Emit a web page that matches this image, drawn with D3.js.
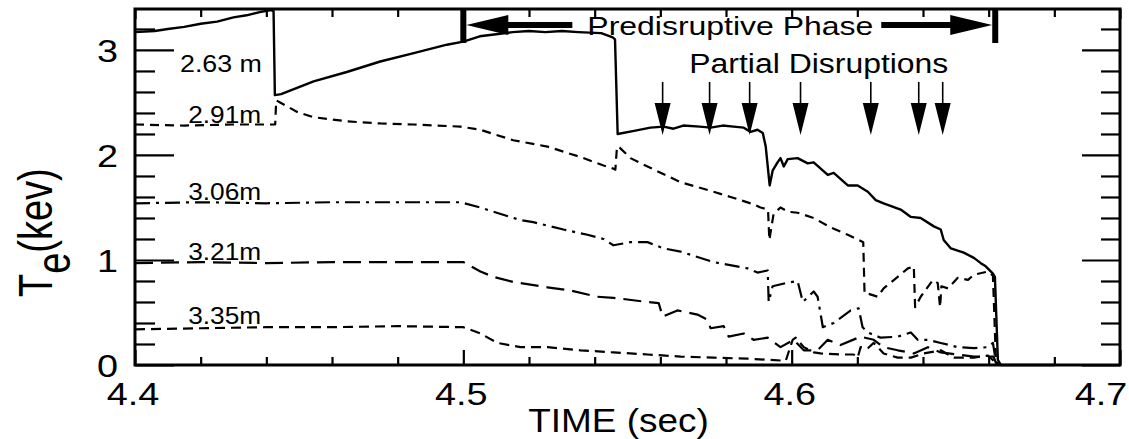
<!DOCTYPE html>
<html>
<head>
<meta charset="utf-8">
<script src="https://cdn.jsdelivr.net/npm/d3@7"></script>
<style>
  html, body { margin: 0; padding: 0; background: #fff; }
  svg { display: block; font-family: "Liberation Sans", Arial, Helvetica, sans-serif; }
</style>
</head>
<body>
<svg id="chart" width="1129" height="439"></svg>
<script>
// ---------------- DATA ----------------
const xDomain = [4.4, 4.7];
const yDomain = [0, 3.39];
const xMajorTicks = [4.4, 4.5, 4.6, 4.7];
const xTickLabels = ["4.4", "4.5", "4.6", "4.7"];
const yMajorTicks = [0, 1, 2, 3];
const yTickLabels = ["0", "1", "2", "3"];
const seriesNames = ["2.63 m", "2.91m", "3.06m", "3.21m", "3.35m"];

// [time (sec), Te (keV)]
const s263 = [[4.4000,3.17],[4.4060,3.18],[4.4100,3.20],[4.4150,3.22],[4.4200,3.25],[4.4250,3.27],[4.4300,3.31],[4.4340,3.33],[4.4380,3.36],[4.4415,3.38],[4.4422,3.37],[4.4426,2.57],[4.4445,2.58],[4.4544,2.70],[4.4645,2.79],[4.4747,2.89],[4.4849,2.97],[4.4950,3.05],[4.5000,3.08],[4.5050,3.13],[4.5100,3.15],[4.5150,3.17],[4.5200,3.18],[4.5250,3.17],[4.5300,3.18],[4.5350,3.17],[4.5420,3.16],[4.5455,3.12],[4.5462,3.10],[4.5470,2.20],[4.5520,2.23],[4.5570,2.26],[4.5610,2.27],[4.5640,2.25],[4.5670,2.28],[4.5720,2.27],[4.5753,2.26],[4.5790,2.28],[4.5823,2.27],[4.5854,2.26],[4.5875,2.22],[4.5896,2.24],[4.5912,2.21],[4.5921,2.08],[4.5933,1.71],[4.5942,1.85],[4.5957,1.93],[4.5966,1.97],[4.5976,1.89],[4.5988,1.96],[4.6018,1.97],[4.6049,1.92],[4.6067,1.93],[4.6110,1.81],[4.6128,1.83],[4.6171,1.71],[4.6201,1.71],[4.6232,1.65],[4.6256,1.57],[4.6280,1.54],[4.6332,1.48],[4.6363,1.41],[4.6393,1.40],[4.6433,1.32],[4.6454,1.29],[4.6463,1.19],[4.6485,1.11],[4.6524,1.07],[4.6555,1.02],[4.6576,0.97],[4.6591,0.94],[4.6613,0.87],[4.6619,0.84],[4.6628,0.05],[4.6637,0.00],[4.6800,0.00]];

const s291 = [[4.4000,2.29],[4.4150,2.28],[4.4300,2.29],[4.4420,2.29],[4.4427,2.29],[4.4430,2.52],[4.4442,2.50],[4.4494,2.41],[4.4543,2.36],[4.4646,2.32],[4.4747,2.30],[4.4848,2.29],[4.4991,2.27],[4.5052,2.24],[4.5152,2.14],[4.5256,2.08],[4.5357,1.98],[4.5427,1.90],[4.5457,1.87],[4.5463,1.86],[4.5468,2.08],[4.5476,2.07],[4.5509,1.97],[4.5561,1.89],[4.5662,1.74],[4.5762,1.65],[4.5814,1.60],[4.5884,1.53],[4.5905,1.50],[4.5928,1.48],[4.5932,1.19],[4.5945,1.44],[4.5966,1.50],[4.5988,1.46],[4.6018,1.45],[4.6067,1.40],[4.6119,1.31],[4.6171,1.24],[4.6218,1.17],[4.6222,0.68],[4.6232,0.68],[4.6262,0.65],[4.6280,0.73],[4.6323,0.84],[4.6354,0.92],[4.6372,0.94],[4.6376,0.55],[4.6393,0.65],[4.6430,0.81],[4.6445,0.78],[4.6452,0.55],[4.6456,0.75],[4.6476,0.73],[4.6506,0.83],[4.6537,0.81],[4.6555,0.86],[4.6598,0.89],[4.6613,0.85],[4.6622,0.05],[4.6637,0.00]];

const s306 = [[4.4000,1.54],[4.4200,1.55],[4.4400,1.54],[4.4600,1.55],[4.4800,1.55],[4.4991,1.55],[4.5052,1.50],[4.5091,1.46],[4.5174,1.38],[4.5213,1.36],[4.5305,1.29],[4.5378,1.24],[4.5427,1.20],[4.5457,1.14],[4.5509,1.17],[4.5561,1.17],[4.5610,1.11],[4.5662,1.08],[4.5762,0.98],[4.5866,0.92],[4.5896,0.88],[4.5927,0.90],[4.5930,0.60],[4.5942,0.75],[4.5982,0.78],[4.6018,0.80],[4.6034,0.60],[4.6067,0.70],[4.6079,0.65],[4.6095,0.36],[4.6128,0.40],[4.6180,0.52],[4.6204,0.54],[4.6216,0.36],[4.6232,0.31],[4.6271,0.26],[4.6323,0.27],[4.6363,0.31],[4.6384,0.24],[4.6415,0.24],[4.6454,0.21],[4.6506,0.17],[4.6555,0.16],[4.6598,0.17],[4.6613,0.21],[4.6622,0.03],[4.6637,0.00]];

const s321 = [[4.4000,0.97],[4.4200,0.98],[4.4400,0.97],[4.4600,0.98],[4.4800,0.98],[4.5000,0.98],[4.5052,0.89],[4.5091,0.84],[4.5152,0.79],[4.5256,0.74],[4.5326,0.71],[4.5408,0.65],[4.5457,0.64],[4.5561,0.60],[4.5595,0.59],[4.5607,0.46],[4.5652,0.52],[4.5713,0.48],[4.5744,0.43],[4.5753,0.35],[4.5793,0.37],[4.5808,0.27],[4.5854,0.30],[4.5884,0.24],[4.5927,0.26],[4.5966,0.17],[4.6006,0.24],[4.6037,0.14],[4.6079,0.14],[4.6110,0.24],[4.6149,0.19],[4.6210,0.27],[4.6250,0.24],[4.6280,0.17],[4.6323,0.14],[4.6372,0.11],[4.6415,0.17],[4.6454,0.12],[4.6506,0.10],[4.6555,0.08],[4.6598,0.08],[4.6615,0.08],[4.6622,0.02],[4.6637,0.00]];

const s335 = [[4.4000,0.34],[4.4200,0.35],[4.4400,0.36],[4.4600,0.36],[4.4800,0.37],[4.5000,0.36],[4.5052,0.30],[4.5104,0.21],[4.5174,0.17],[4.5256,0.17],[4.5357,0.14],[4.5457,0.12],[4.5561,0.10],[4.5662,0.08],[4.5762,0.07],[4.5866,0.06],[4.5927,0.05],[4.5982,0.04],[4.6003,0.24],[4.6012,0.26],[4.6037,0.17],[4.6067,0.12],[4.6088,0.11],[4.6149,0.10],[4.6189,0.10],[4.6201,0.07],[4.6210,0.17],[4.6232,0.16],[4.6250,0.21],[4.6280,0.11],[4.6323,0.07],[4.6363,0.07],[4.6402,0.11],[4.6454,0.14],[4.6494,0.07],[4.6555,0.07],[4.6598,0.09],[4.6622,0.02],[4.6637,0.00]];

// label anchor (time, Te) for each series name
const labelTimes = [4.4137, 4.4162, 4.4162, 4.4162, 4.4162];
const labelValues = [2.79, 2.30, 1.57, 1.00, 0.39];

// annotations
const phaseStart = 4.5;
const phaseEnd = 4.662;
const partialDisruptionTimes = [4.5607, 4.5750, 4.5872, 4.6027, 4.6241, 4.6387, 4.6460];

// ---------------- CHART ----------------
(function () {
const svg = d3.select("#chart");
const margin = {left: 135, right: 9, top: 9, bottom: 74};
const W = 1129, H = 439;
const x = d3.scaleLinear(xDomain, [margin.left, W - margin.right]);
const y = d3.scaleLinear(yDomain, [H - margin.bottom, margin.top]);

const series = [
  {data: s263, dash: null, w: 2.4},
  {data: s291, dash: "9,6", w: 2.2},
  {data: s306, dash: "15,6,3,6", w: 2.2},
  {data: s321, dash: "18,8", w: 2.2},
  {data: s335, dash: "10,6", w: 2.2}
];

const line = d3.line().x(d => x(d[0])).y(d => y(d[1]));
svg.append("g").selectAll("path").data(series).join("path")
  .attr("d", d => line(d.data))
  .attr("fill", "none")
  .attr("stroke", "#000")
  .attr("stroke-width", d => d.w)
  .attr("stroke-linejoin", "round")
  .attr("stroke-dasharray", d => d.dash);

// axes
const xMinor = d3.range(4.42, 4.7, 0.02).filter(v => Math.abs(v*10 - Math.round(v*10)) > 1e-6);
const yMinor = d3.range(0.2, 3.39, 0.2).filter(v => Math.abs(v - Math.round(v)) > 1e-6);
function styleAxis(g) {
  g.selectAll(".domain").remove();
  g.selectAll("line").attr("stroke", "#000").attr("stroke-width", 2.2);
  g.selectAll("text").remove();
}
const bottomY = H - margin.bottom, leftX = margin.left, rightX = W - margin.right, topY = margin.top;
svg.append("g").attr("transform", `translate(0,${bottomY})`).call(d3.axisBottom(x).tickValues(xMajorTicks).tickSize(-15)).call(styleAxis);
svg.append("g").attr("transform", `translate(0,${bottomY})`).call(d3.axisBottom(x).tickValues(xMinor).tickSize(-8)).call(styleAxis);
svg.append("g").attr("transform", `translate(0,${topY})`).call(d3.axisTop(x).tickValues(xMajorTicks).tickSize(-10)).call(styleAxis);
svg.append("g").attr("transform", `translate(0,${topY})`).call(d3.axisTop(x).tickValues(xMinor).tickSize(-8)).call(styleAxis);
svg.append("g").attr("transform", `translate(${leftX},0)`).call(d3.axisLeft(y).tickValues(yMajorTicks).tickSize(-39)).call(styleAxis);
svg.append("g").attr("transform", `translate(${leftX},0)`).call(d3.axisLeft(y).tickValues(yMinor).tickSize(-20)).call(styleAxis);
svg.append("g").attr("transform", `translate(${rightX},0)`).call(d3.axisRight(y).tickValues(yMajorTicks).tickSize(-38)).call(styleAxis);
svg.append("g").attr("transform", `translate(${rightX},0)`).call(d3.axisRight(y).tickValues(yMinor).tickSize(-19)).call(styleAxis);

// frame
svg.append("rect").attr("x", leftX).attr("y", topY).attr("width", rightX - leftX).attr("height", bottomY - topY)
  .attr("fill", "none").attr("stroke", "#000").attr("stroke-width", 3);

// tick labels (last one pulled in so it stays inside the picture)
svg.append("g").selectAll("text").data(xMajorTicks).join("text")
  .attr("transform", (d, i) => `translate(${Math.min(x(d) - 2, W - 28)},${bottomY + 40}) scale(1.22,1)`)
  .attr("text-anchor", "middle").attr("font-size", 31)
  .text((d, i) => xTickLabels[i]);
svg.append("g").selectAll("text").data(yMajorTicks).join("text")
  .attr("transform", d => `translate(${leftX - 17},${y(d) + 12}) scale(1.22,1)`)
  .attr("text-anchor", "end").attr("font-size", 31)
  .text((d, i) => yTickLabels[i]);

// axis titles
svg.append("text")
  .attr("transform", `translate(${(leftX + rightX) / 2 - 9},${bottomY + 67}) scale(1.12,1)`)
  .attr("text-anchor", "middle").attr("font-size", 33)
  .text("TIME (sec)");
const yt = svg.append("text")
  .attr("transform", `translate(52,297) scale(1.25,1) rotate(-90)`)
  .attr("text-anchor", "start").attr("font-size", 38);
yt.append("tspan").text("T");
yt.append("tspan").attr("dy", 14).text("e");
yt.append("tspan").attr("dy", -14).text("(kev)");

// series labels
svg.append("g").selectAll("text").data(seriesNames).join("text")
  .attr("x", (d, i) => x(labelTimes[i]))
  .attr("y", (d, i) => y(labelValues[i]))
  .attr("font-size", 23)
  .attr("textLength", (d, i) => i === 0 ? 82 : 73)
  .attr("lengthAdjust", "spacingAndGlyphs")
  .text(d => d);

// predisruptive phase annotation
const ann = svg.append("g");
const xs = x(phaseStart), xe = x(phaseEnd);
ann.append("rect").attr("x", xs - 3).attr("y", topY).attr("width", 6).attr("height", 34).attr("fill", "#000");
ann.append("rect").attr("x", xe - 3).attr("y", topY).attr("width", 6).attr("height", 34).attr("fill", "#000");
ann.append("path").attr("d", `M${xs + 3},25 L${xs + 45},15 L${xs + 45},35 Z`).attr("fill", "#000");
ann.append("rect").attr("x", xs + 44).attr("y", 22).attr("width", 65).attr("height", 6).attr("fill", "#000");
ann.append("path").attr("d", `M${xe - 3},25 L${xe - 45},15 L${xe - 45},35 Z`).attr("fill", "#000");
ann.append("rect").attr("x", xe - 114).attr("y", 22).attr("width", 70).attr("height", 6).attr("fill", "#000");
ann.append("text").attr("x", xs + 124).attr("y", 35).attr("font-size", 26)
  .attr("textLength", 286).attr("lengthAdjust", "spacingAndGlyphs").text("Predisruptive Phase");
ann.append("text").attr("x", xs + 226).attr("y", 73).attr("font-size", 27)
  .attr("textLength", 259).attr("lengthAdjust", "spacingAndGlyphs").text("Partial Disruptions");

// partial disruption arrows
const arr = svg.append("g").selectAll("g").data(partialDisruptionTimes).join("g")
  .attr("transform", d => `translate(${x(d)},0)`);
arr.append("line").attr("x1", 0).attr("x2", 0).attr("y1", 82).attr("y2", 105)
  .attr("stroke", "#000").attr("stroke-width", 1.6);
arr.append("path").attr("d", "M-8,103 L8,103 L0,135 Z").attr("fill", "#000");
})();
</script>
</body>
</html>
